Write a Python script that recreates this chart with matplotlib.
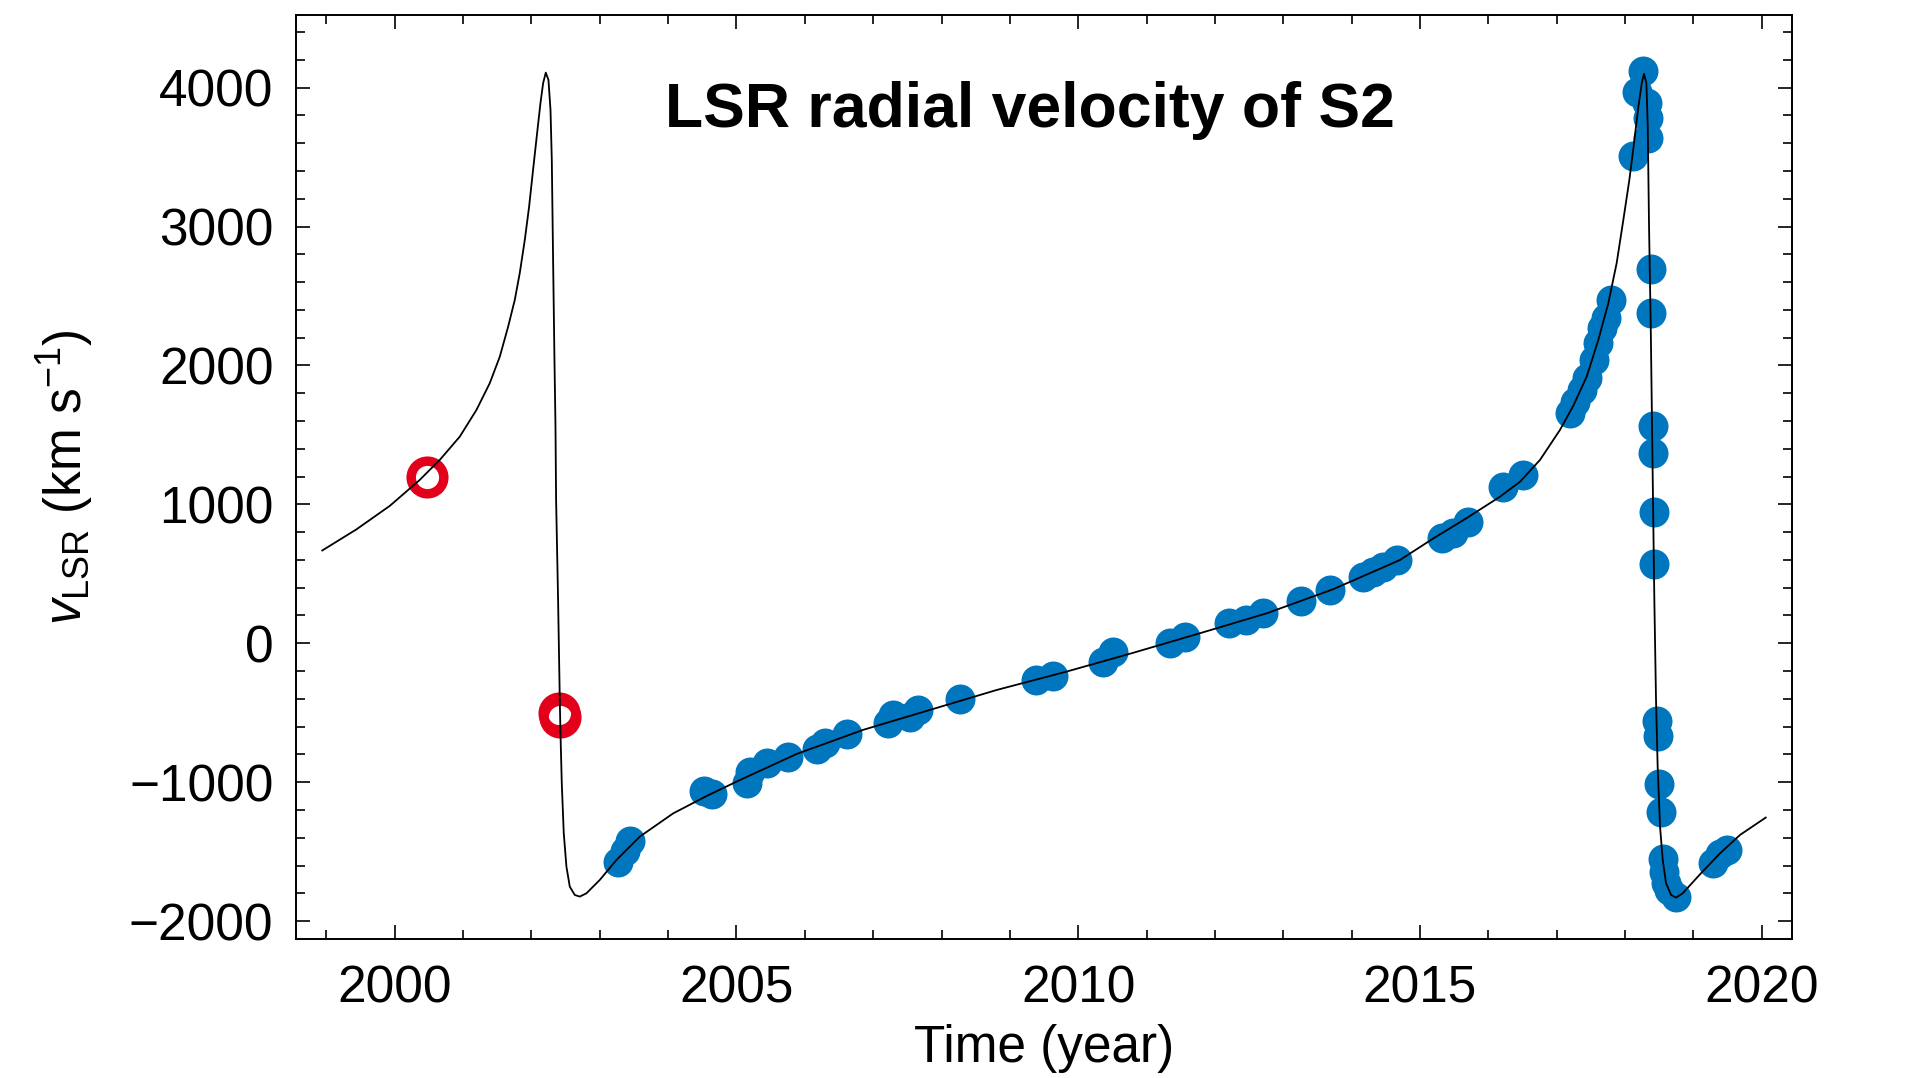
import matplotlib
matplotlib.use("Agg")
import matplotlib.pyplot as plt
from matplotlib.ticker import MultipleLocator

# ---- data ----
curve_t = [1998.94, 1999.44, 1999.93, 2000.366, 2000.659, 2000.951, 2001.196, 2001.39,
           2001.537, 2001.659, 2001.756, 2001.829, 2001.903, 2001.966, 2002.024, 2002.083,
           2002.132, 2002.171, 2002.21, 2002.249, 2002.279, 2002.298, 2002.317, 2002.337,
           2002.352, 2002.361, 2002.39, 2002.415, 2002.425, 2002.444, 2002.473, 2002.512,
           2002.561, 2002.634, 2002.707, 2002.805, 2003.0, 2003.244, 2003.586, 2004.073,
           2004.562, 2005.049, 2005.88, 2006.85, 2007.83, 2008.81, 2009.83, 2010.81,
           2011.78, 2012.76, 2013.73, 2014.71, 2015.20, 2015.68, 2016.171, 2016.464,
           2016.757, 2017.049, 2017.244, 2017.44, 2017.61, 2017.756, 2017.878, 2017.976,
           2018.064, 2018.132, 2018.196, 2018.245, 2018.279, 2018.313, 2018.333, 2018.352,
           2018.377, 2018.396, 2018.41, 2018.43, 2018.454, 2018.478, 2018.513, 2018.552,
           2018.601, 2018.674, 2018.747, 2018.845, 2019.089, 2019.391, 2019.683, 2020.059]
curve_v = [668, 820, 990, 1176, 1320, 1487, 1680, 1872,
           2063, 2279, 2471, 2664, 2904, 3143, 3408, 3672,
           3888, 4032, 4108, 4056, 3840, 3480, 2760, 2040,
           1559, 1032, 312, -408, -648, -1008, -1368, -1608,
           -1752, -1812, -1824, -1800, -1704, -1560, -1392, -1225,
           -1100, -985, -797, -624, -480, -336, -204, -68,
           72, 216, 389, 600, 756, 900, 1055, 1163,
           1320, 1536, 1710, 1920, 2184, 2448, 2736, 3048,
           3336, 3600, 3863, 4032, 4099, 4032, 3719, 2999,
           2279, 1559, 1032, 300, -408, -888, -1320, -1560,
           -1728, -1812, -1831, -1800, -1668, -1512, -1380, -1255]

blue_t = [2003.27, 2003.37, 2003.44, 2004.52, 2004.64, 2005.15, 2005.20, 2005.45,
          2005.76, 2006.18, 2006.29, 2006.61, 2007.22, 2007.29, 2007.54, 2007.66,
          2008.27, 2009.38, 2009.63, 2010.37, 2010.51, 2011.34, 2011.56, 2012.21,
          2012.46, 2012.71, 2013.26, 2013.68, 2014.17, 2014.32, 2014.46, 2014.66,
          2015.33, 2015.49, 2015.71, 2016.22, 2016.51, 2017.20, 2017.27, 2017.37,
          2017.45, 2017.54, 2017.61, 2017.66, 2017.72, 2017.80, 2018.12, 2018.17,
          2018.27, 2018.32, 2018.33, 2018.34, 2018.38, 2018.38, 2018.41, 2018.41,
          2018.425, 2018.43, 2018.47, 2018.48, 2018.50, 2018.52, 2018.56, 2018.57,
          2018.60, 2018.64, 2018.74, 2019.29, 2019.39, 2019.49]
blue_v = [-1572, -1493, -1421, -1061, -1087, -1003, -924, -864,
          -821, -763, -715, -655, -571, -516, -533, -480,
          -401, -264, -235, -132, -60, 0, 48, 144,
          168, 220, 307, 384, 480, 515, 552, 600,
          756, 792, 875, 1127, 1212, 1656, 1739, 1824,
          1908, 2040, 2160, 2268, 2340, 2472, 3508, 3971,
          4120, 3888, 3780, 3636, 2693, 2380, 1564, 1368,
          947, 571, -557, -667, -1015, -1212, -1555, -1644,
          -1728, -1776, -1829, -1584, -1517, -1488]

red_t = [2000.47, 2002.41, 2002.42]
red_v = [1195, -500, -530]

x_major = [2000, 2005, 2010, 2015, 2020]
y_major = [-2000, -1000, 0, 1000, 2000, 3000, 4000]

# ---- figure ----
plt.rcParams['font.family'] = ['Liberation Sans', 'DejaVu Sans']
plt.rcParams['mathtext.fontset'] = 'custom'
plt.rcParams['mathtext.rm'] = 'Liberation Sans'
plt.rcParams['mathtext.it'] = 'Liberation Sans:italic'

fig = plt.figure(figsize=(19.11, 10.78), dpi=100)
ax = fig.add_axes([0.1547, 0.1287, 0.9376 - 0.1547, 0.9861 - 0.1287])

ax.plot(blue_t, blue_v, linestyle='none', marker='o', ms=21.6,
        color='#0076BF', mec='none', zorder=2)
ax.plot(red_t, red_v, linestyle='none', marker='o', ms=23.5, mfc='none',
        mec='#E2001A', mew=6.8, zorder=2)
ax.plot(curve_t, curve_v, color='black', lw=1.3, zorder=3,
        solid_joinstyle='round')

ax.set_xlim(1998.55, 2020.44)
ax.set_ylim(-2131, 4523)
ax.set_xticks(x_major)
ax.set_yticks(y_major)
ax.xaxis.set_minor_locator(MultipleLocator(1))
ax.yaxis.set_minor_locator(MultipleLocator(200))
ax.set_yticklabels([f"{v}".replace('-', '\u2212') for v in y_major])

ax.tick_params(which='both', direction='in', top=True, right=True,
               labelsize=37, width=1.2)
ax.tick_params(which='major', length=10)
ax.tick_params(which='minor', length=6.5)
ax.tick_params(axis='x', pad=18)
ax.tick_params(axis='y', pad=16)
for s in ax.spines.values():
    s.set_linewidth(1.4)

ax.set_xlabel('Time (year)', fontsize=37, labelpad=8)
ax.set_ylabel(r'$v_{\mathrm{LSR}}$ (km s$^{-1}$)', fontsize=37, labelpad=24)

ax.text(0.491, 0.897, 'LSR radial velocity of S2', transform=ax.transAxes,
        ha='center', va='center', fontsize=45, fontweight='bold')

fig.savefig('out.png', dpi=100)
